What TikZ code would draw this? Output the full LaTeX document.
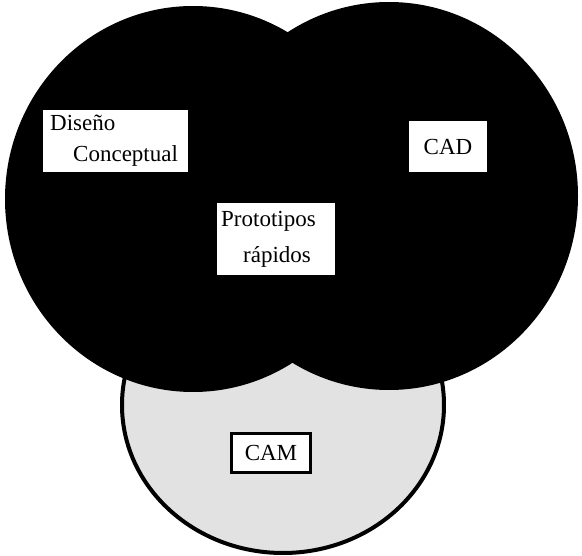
\documentclass[tikz,border=0pt]{standalone}
\usepackage{fontspec}
\setmainfont{Liberation Serif}
\usepackage{tikz}
\usetikzlibrary{positioning}
\definecolor{camgray}{HTML}{E2E2E2}

\begin{document}
\begin{tikzpicture}[
  x=1pt, y=-1pt,
  blob/.style={fill=black},
  tag/.style={rectangle,fill=white,align=left,inner ysep=0pt},
  font=\fontsize{23}{31}\selectfont
]
  \useasboundingbox (0,0) rectangle (582,556);
  \filldraw[fill=camgray,draw=black,line width=4pt] (283,405) ellipse [x radius=161, y radius=148];
  \fill[blob] (193,199) ellipse [x radius=188, y radius=193];
  \fill[blob] (389,196) ellipse [x radius=189, y radius=194];
  \node[tag,anchor=north west,inner xsep=7pt,text width=131pt,minimum height=62pt] (dis) at (43,110)
        {Diseño\\\hspace*{23pt}Conceptual};
  \node[tag,anchor=north west,inner xsep=4pt,text width=110pt,minimum height=72pt] (proto) at (217,203)
        {Prototipos\\[5pt]\hspace*{22pt}rápidos};
  \node[tag,align=center,minimum width=78pt,minimum height=51pt] (cad) at (448,146.5) {CAD};
  \node[tag,align=center,draw,line width=3pt,minimum width=79pt,minimum height=39pt] (cam) at (271,453) {CAM};
\end{tikzpicture}
\end{document}
